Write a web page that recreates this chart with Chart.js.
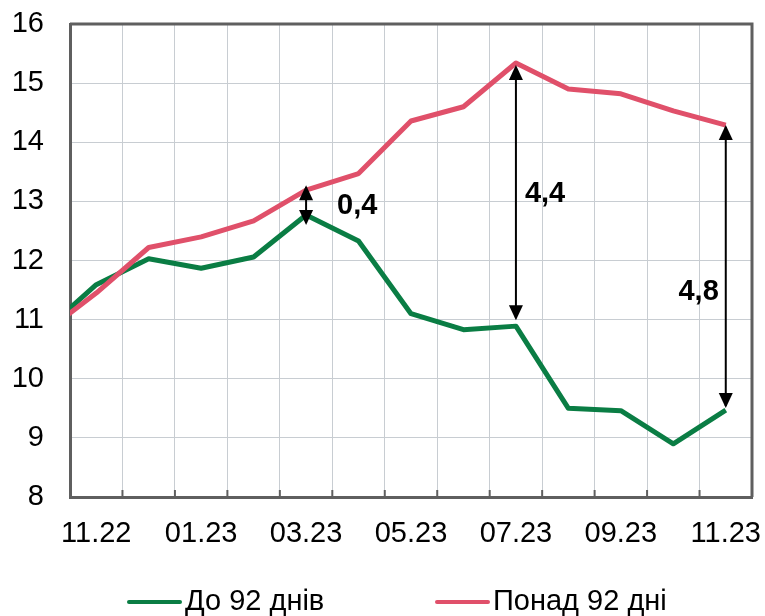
<!DOCTYPE html>
<html>
<head>
<meta charset="utf-8">
<script src="https://cdn.jsdelivr.net/npm/chart.js@4.4.0/dist/chart.umd.min.js"></script>
<style>
    html, body { margin: 0; padding: 0; background: #fff; overflow: hidden; }
    #wrap { position: relative; width: 765px; height: 616px; }
    .legend-item { position: absolute; top: 586px; font: 29px "Liberation Sans", Arial, sans-serif; line-height: 29px; color: #000; white-space: nowrap; }
    .legend-item .swatch { position: absolute; width: 55px; height: 4px; border-radius: 2px; }
</style>
</head>
<body>
<div id="wrap">
    <canvas id="rateChart" width="765" height="616"></canvas>
    <div id="legend"></div>
</div>
<script>
// Months (10.22 sits just outside the visible range, the line runs in from it)
const months = ['10.22', '11.22', '12.22', '01.23', '02.23', '03.23', '04.23', '05.23', '06.23', '07.23', '08.23', '09.23', '10.23', '11.23'];
const seriesNames = ['До 92 днів', 'Понад 92 дні'];
const shortTerm = [10.8, 11.59, 12.03, 11.87, 12.06, 12.77, 12.33, 11.1, 10.83, 10.89, 9.5, 9.46, 8.9, 9.47];
const longTerm = [10.77, 11.45, 12.22, 12.4, 12.67, 13.19, 13.47, 14.36, 14.6, 15.34, 14.9, 14.82, 14.53, 14.29];
const seriesColors = ['#0a7d44', '#e0506a'];

// Gap arrows between the two lines
const gapMonths = ['03.23', '07.23', '11.23'];
const gapLabels = ['0,4', '4,4', '4,8'];
// hand-drawn arrows: tips nudged a few px off the lines, labels beside them
const gapLabelStyle = [
    { align: 'left', dx: 31, at: 12.93, tipTop: -5, tipBottom: 10 },
    { align: 'left', dx: 9, at: 13.12, tipTop: 2, tipBottom: -6 },
    { align: 'right', dx: -7, at: 11.46, tipTop: 0, tipBottom: -2 }
];

const fontFamily = '"Liberation Sans", Arial, sans-serif';

const gapArrows = {
    id: 'gapArrows',
    afterDatasetsDraw(chart) {
        const ctx = chart.ctx;
        const xs = chart.scales.x, ys = chart.scales.y;
        const head = 15, half = 7;
        ctx.save();
        ctx.fillStyle = '#000';
        ctx.strokeStyle = '#000';
        ctx.lineWidth = 2;
        gapMonths.forEach((m, k) => {
            const i = months.indexOf(m);
            const st = gapLabelStyle[k];
            const x = xs.getPixelForValue(i);
            const yTop = ys.getPixelForValue(longTerm[i]) + st.tipTop;
            const yBot = ys.getPixelForValue(shortTerm[i]) + st.tipBottom;
            ctx.beginPath();
            ctx.moveTo(x, yTop + 2);
            ctx.lineTo(x, yBot - 2);
            ctx.stroke();
            ctx.beginPath();
            ctx.moveTo(x, yTop);
            ctx.lineTo(x - half, yTop + head);
            ctx.lineTo(x + half, yTop + head);
            ctx.closePath();
            ctx.fill();
            ctx.beginPath();
            ctx.moveTo(x, yBot);
            ctx.lineTo(x - half, yBot - head);
            ctx.lineTo(x + half, yBot - head);
            ctx.closePath();
            ctx.fill();

            ctx.font = 'bold 29px ' + fontFamily;
            ctx.textAlign = st.align;
            ctx.textBaseline = 'middle';
            ctx.fillText(gapLabels[k], x + st.dx, ys.getPixelForValue(st.at));
        });
        ctx.restore();
    }
};

// Frame around the plot and short inner tick marks on the category axis
const plotFrame = {
    id: 'plotFrame',
    beforeDatasetsDraw(chart) {
        const ctx = chart.ctx;
        const a = chart.chartArea;
        const xs = chart.scales.x;
        ctx.save();
        ctx.strokeStyle = '#5f5f5f';
        ctx.lineWidth = 3;
        ctx.beginPath();
        ctx.moveTo(a.left, a.top);
        ctx.lineTo(a.right, a.top);
        ctx.lineTo(a.right, a.bottom);
        ctx.stroke();
        ctx.lineWidth = 2;
        for (let i = 1; i < months.length - 1; i++) {
            const x = xs.getPixelForValue(i + 0.5);
            ctx.beginPath();
            ctx.moveTo(x, a.bottom);
            ctx.lineTo(x, a.bottom - 7);
            ctx.stroke();
        }
        ctx.restore();
    }
};

const ctx = document.getElementById('rateChart').getContext('2d');
const rateChart = new Chart(ctx, {
    type: 'line',
    data: {
        labels: months,
        datasets: [
            { label: seriesNames[0], data: shortTerm, borderColor: seriesColors[0], backgroundColor: seriesColors[0], borderWidth: 5, pointRadius: 0, borderJoinStyle: 'round', order: 1, clip: 0 },
            { label: seriesNames[1], data: longTerm, borderColor: seriesColors[1], backgroundColor: seriesColors[1], borderWidth: 5, pointRadius: 0, borderJoinStyle: 'round', order: 0, clip: 0 }
        ]
    },
    options: {
        responsive: false,
        animation: false,
        layout: { padding: { top: 24, right: 13, bottom: 74, left: 0 } },
        plugins: {
            legend: { display: false },
            tooltip: { enabled: false }
        },
        scales: {
            x: {
                type: 'category',
                min: '11.22',
                offset: true,
                grid: { offset: true, color: '#c8cdd2', lineWidth: 1, drawTicks: false },
                border: { color: '#5f5f5f', width: 3 },
                ticks: {
                    autoSkip: false,
                    maxRotation: 0,
                    padding: 20,
                    color: '#000',
                    font: { family: fontFamily, size: 29 },
                    callback: function(value) {
                        return (value - 1) % 2 === 0 ? months[value] : '';
                    }
                },
                afterFit: function(scale) {
                    scale.height = 45;
                    scale.paddingLeft = 0;
                    scale.paddingRight = 0;
                }
            },
            y: {
                min: 8,
                max: 16,
                grid: { color: '#c8cdd2', lineWidth: 1, drawTicks: false },
                border: { color: '#5f5f5f', width: 3 },
                ticks: { stepSize: 1, padding: 26, color: '#000', font: { family: fontFamily, size: 29 } },
                afterFit: function(scale) {
                    scale.width = 70;
                    scale.paddingTop = 0;
                    scale.paddingBottom = 0;
                }
            }
        }
    },
    plugins: [plotFrame, gapArrows]
});

// Legend under the chart
const legendBox = document.getElementById('legend');
const legendLeft = [127, 435];
seriesNames.forEach((name, i) => {
    const item = document.createElement('div');
    item.className = 'legend-item';
    item.style.left = legendLeft[i] + 'px';
    item.style.paddingLeft = '58px';
    const sw = document.createElement('span');
    sw.className = 'swatch';
    sw.style.left = '0px';
    sw.style.top = '14px';
    sw.style.background = seriesColors[i];
    item.appendChild(sw);
    item.appendChild(document.createTextNode(name));
    legendBox.appendChild(item);
});
</script>
</body>
</html>
